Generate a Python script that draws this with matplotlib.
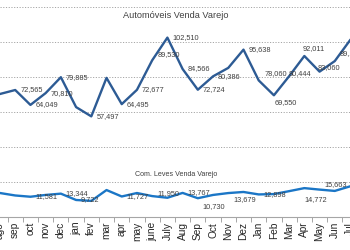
import matplotlib
matplotlib.use('Agg')
import matplotlib.pyplot as plt
from matplotlib.ticker import MultipleLocator, FixedLocator

# ---------------- data ----------------
months = ['ago', 'sep', 'oct', 'nov', 'dec', 'jan', 'fev', 'mar', 'apr', 'may',
          'june', 'July', 'Aug', 'Sep', 'Oct', 'Nov', 'Dez', 'Jan', 'Feb', 'Mar',
          'Apr', 'May', 'Jun', 'Jul']

autos = [70300, 72565, 64049, 70810, 79885, 62800, 57497, 79500, 64495, 72677,
         89530, 102510, 84566, 72724, 80386, 85200, 95638, 78060, 69550, 80444,
         92011, 83060, 89100, 101000]

leves = [13700, 12300, 11581, 12600, 13344, 9722, 9200, 15400, 11727, 13700,
         11950, 11000, 13767, 10730, 12600, 13679, 14300, 12898, 13100, 14772,
         16500, 15663, 14900, 17500]

autos_labelled = [1, 2, 3, 4, 6, 8, 9, 10, 11, 12, 13, 14, 16, 17, 18, 19, 20, 21, 22]
leves_labelled = [2, 4, 5, 8, 10, 12, 13, 15, 17, 19, 21]

title_autos = 'Automóveis Venda Varejo'
title_leves = 'Com. Leves Venda Varejo'

# label nudges in image pixels (dx right, dy down) relative to default "right" placement
autos_nudge = {10: (0, -6), 17: (1, -7), 18: (-4, 7), 19: (-6, -3), 20: (-7, -7),
               21: (-7, -4), 22: (0, -8)}
leves_nudge = {10: (0, -3), 13: (0, 8), 15: (0, 6), 19: (10, 8), 21: (0, -5)}

# ---------------- figure ----------------
W, H = 350, 250
fig = plt.figure(figsize=(W / 100, H / 100), dpi=100)
ax = fig.add_axes([0, 33 / H, 1, 217 / H])
x = list(range(len(months)))
ax.set_xlim(0.186, 22.64)
ax.set_ylim(0, 124000)

ax.yaxis.set_major_locator(MultipleLocator(20000))
ax.grid(axis='y', linestyle=(0, (1.2, 1.6)), color='#a6a6a6', linewidth=0.7)
ax.set_axisbelow(True)
ax.tick_params(axis='y', left=False, labelleft=False)
for s in ('top', 'left', 'right'):
    ax.spines[s].set_visible(False)
ax.spines['bottom'].set_color('#a6a6a6')
ax.spines['bottom'].set_linewidth(0.8)

ax.set_xticks(x)
ax.set_xticklabels(months, rotation=90, fontsize=7.3, color='#262626',
                   family=['Liberation Sans', 'DejaVu Sans'])
ax.tick_params(axis='x', which='major', length=0, pad=3.5)
ax.xaxis.set_minor_locator(FixedLocator([i + 0.5 for i in range(-1, len(months))]))
ax.tick_params(axis='x', which='minor', length=3.5, color='#a6a6a6', width=0.7)

ax.plot(x, autos, color='#2D5B94', lw=1.7, solid_joinstyle='round', clip_on=True)
ax.plot(x, leves, color='#1B76C6', lw=1.7, solid_joinstyle='round', clip_on=True)

lab_kw = dict(fontsize=5.3, color='#404040', family=['Liberation Sans', 'DejaVu Sans'],
              textcoords='offset pixels', ha='left', va='center', annotation_clip=False)
for i in autos_labelled:
    dx, dy = autos_nudge.get(i, (0, 0))
    ax.annotate(f'{autos[i]:,}', (x[i], autos[i]), xytext=(5 + dx, -dy), **lab_kw)
for i in leves_labelled:
    dx, dy = leves_nudge.get(i, (0, 0))
    ax.annotate(f'{leves[i]:,}', (x[i], leves[i]), xytext=(5 + dx, -dy), **lab_kw)

fig.text(176 / W, 1 - 16 / H, title_autos, ha='center', va='center', fontsize=6.6,
         color='#404040', family=['Liberation Sans', 'DejaVu Sans'])
fig.text(176 / W, 1 - 175 / H, title_leves, ha='center', va='center', fontsize=5.1,
         color='#404040', family=['Liberation Sans', 'DejaVu Sans'])

fig.savefig('out.png', dpi=100)
